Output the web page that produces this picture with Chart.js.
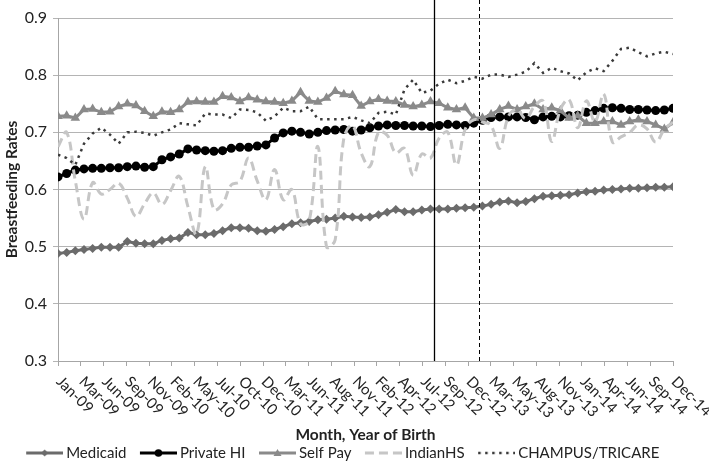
<!DOCTYPE html>
<html>
<head>
<meta charset="utf-8">
<script src="https://cdn.jsdelivr.net/npm/chart.js@4.4.1/dist/chart.umd.min.js"></script>
<style>
  body { margin: 0; background: #fff; }
</style>
</head>
<body>
<canvas id="chart" width="709" height="462"></canvas>
<script>
// tick labels shown under the month axis (28 evenly spaced ticks over 72 months)
const xTickLabels = ['Jan-09', 'Mar-09', 'Jun-09', 'Sep-09', 'Nov-09', 'Feb-10', 'May-10',
  'Jul-10', 'Oct-10', 'Dec-10', 'Mar-11', 'Jun-11', 'Aug-11', 'Nov-11', 'Feb-12', 'Apr-12',
  'Jul-12', 'Sep-12', 'Dec-12', 'Mar-13', 'May-13', 'Aug-13', 'Nov-13', 'Jan-14', 'Apr-14',
  'Jun-14', 'Sep-14', 'Dec-14'];

// monthly rates, Jan-09 .. Dec-14
const medicaid = [
  0.488, 0.490, 0.493, 0.495, 0.497, 0.499, 0.499, 0.499, 0.509, 0.506, 0.505, 0.505,
  0.511, 0.514, 0.515, 0.525, 0.521, 0.521, 0.523, 0.528, 0.533, 0.533, 0.532, 0.528,
  0.527, 0.530, 0.535, 0.540, 0.542, 0.544, 0.547, 0.548, 0.550, 0.553, 0.552, 0.551,
  0.552, 0.556, 0.560, 0.565, 0.561, 0.561, 0.564, 0.566, 0.566, 0.566, 0.567, 0.568,
  0.569, 0.571, 0.574, 0.578, 0.580, 0.577, 0.579, 0.584, 0.588, 0.589, 0.590, 0.591,
  0.594, 0.596, 0.597, 0.599, 0.600, 0.601, 0.602, 0.602, 0.603, 0.604, 0.604, 0.605];

const privateHI = [
  0.622, 0.628, 0.634, 0.636, 0.637, 0.637, 0.638, 0.638, 0.640, 0.641, 0.639, 0.640,
  0.652, 0.657, 0.662, 0.671, 0.669, 0.668, 0.667, 0.668, 0.672, 0.674, 0.674, 0.676,
  0.678, 0.690, 0.699, 0.702, 0.700, 0.697, 0.700, 0.703, 0.704, 0.705, 0.702, 0.704,
  0.708, 0.711, 0.713, 0.712, 0.712, 0.711, 0.711, 0.710, 0.712, 0.714, 0.713, 0.712,
  0.716, 0.721, 0.726, 0.727, 0.727, 0.727, 0.726, 0.722, 0.727, 0.728, 0.727, 0.729,
  0.730, 0.735, 0.738, 0.742, 0.743, 0.742, 0.740, 0.740, 0.739, 0.738, 0.739, 0.742];

const selfPay = [
  0.728, 0.729, 0.725, 0.740, 0.741, 0.735, 0.736, 0.745, 0.750, 0.747, 0.737, 0.728,
  0.736, 0.735, 0.740, 0.753, 0.754, 0.753, 0.753, 0.763, 0.761, 0.754, 0.761, 0.757,
  0.754, 0.753, 0.751, 0.755, 0.770, 0.755, 0.753, 0.760, 0.772, 0.766, 0.765, 0.746,
  0.754, 0.758, 0.755, 0.754, 0.748, 0.745, 0.748, 0.754, 0.751, 0.743, 0.740, 0.743,
  0.725, 0.725, 0.731, 0.740, 0.746, 0.740, 0.745, 0.750, 0.740, 0.743, 0.738, 0.725,
  0.729, 0.716, 0.716, 0.719, 0.719, 0.713, 0.719, 0.722, 0.719, 0.713, 0.706, 0.717];

const indianHS = [
  0.675, 0.700, 0.615, 0.548, 0.612, 0.592, 0.600, 0.611, 0.585, 0.553, 0.575, 0.594,
  0.574, 0.598, 0.623, 0.570, 0.522, 0.640, 0.565, 0.575, 0.608, 0.614, 0.655, 0.615,
  0.582, 0.635, 0.582, 0.600, 0.540, 0.545, 0.675, 0.500, 0.512, 0.690, 0.712, 0.664,
  0.640, 0.700, 0.695, 0.664, 0.672, 0.625, 0.662, 0.655, 0.690, 0.700, 0.643, 0.705,
  0.722, 0.718, 0.712, 0.672, 0.728, 0.740, 0.724, 0.745, 0.755, 0.684, 0.740, 0.757,
  0.708, 0.755, 0.718, 0.767, 0.683, 0.692, 0.700, 0.713, 0.706, 0.683, 0.705, 0.718];

const champus = [
  0.661, 0.655, 0.643, 0.680, 0.698, 0.708, 0.696, 0.680, 0.700, 0.701, 0.699, 0.694,
  0.700, 0.705, 0.716, 0.714, 0.712, 0.733, 0.731, 0.731, 0.725, 0.740, 0.739, 0.735,
  0.720, 0.728, 0.743, 0.737, 0.737, 0.745, 0.723, 0.723, 0.723, 0.723, 0.727, 0.721,
  0.716, 0.734, 0.736, 0.731, 0.775, 0.792, 0.769, 0.773, 0.785, 0.792, 0.786, 0.790,
  0.797, 0.794, 0.801, 0.801, 0.797, 0.801, 0.806, 0.821, 0.804, 0.813, 0.807, 0.803,
  0.791, 0.805, 0.812, 0.807, 0.825, 0.846, 0.848, 0.840, 0.833, 0.838, 0.841, 0.837];

// reference lines, in months since Jan-09
const solidLineAt = 43.4;
const dashedLineAt = 48.6;

const FONT = 'Lato, "Open Sans", sans-serif';
const TEXT = '#222';

const toXY = arr => arr.map((v, i) => ({ x: i, y: v }));

const datasets = [
  { label: 'Medicaid', data: toXY(medicaid), borderColor: '#6b6b6b', backgroundColor: '#6b6b6b',
    borderWidth: 3, pointStyle: 'rectRot', pointRadius: 4.5, pointBorderWidth: 0, order: 4 },
  { label: 'Private HI', data: toXY(privateHI), borderColor: '#000', backgroundColor: '#000',
    borderWidth: 3, pointStyle: 'circle', pointRadius: 4.5, pointBorderWidth: 0, order: 3 },
  { label: 'Self Pay', data: toXY(selfPay), borderColor: '#8a8a8a', backgroundColor: '#8a8a8a',
    borderWidth: 3, pointStyle: 'triangle', pointRadius: 5.5, pointBorderWidth: 0, order: 2 },
  { label: 'IndianHS', data: toXY(indianHS), borderColor: '#c6c6c6', backgroundColor: '#c6c6c6',
    borderWidth: 3, borderDash: [9, 5], tension: 0.4, pointRadius: 0, order: 1 },
  { label: 'CHAMPUS/TRICARE', data: toXY(champus), borderColor: '#3a3a3a', backgroundColor: '#3a3a3a',
    borderWidth: 2.5, borderDash: [2.5, 4.5], pointRadius: 0, order: 0 }
];

// legend picture: blank lead-in, then a line with the series marker in the middle
const SW_BOX = 45, SW_W = 54, SW_LINE = 37;
function makeSwatch(ds) {
  const c = document.createElement('canvas');
  c.width = SW_W; c.height = 14;
  const g = c.getContext('2d');
  const x0 = SW_W - SW_LINE, mid = x0 + SW_LINE / 2;
  g.strokeStyle = ds.borderColor;
  g.lineWidth = ds.borderWidth;
  g.setLineDash(ds.borderDash || []);
  g.beginPath(); g.moveTo(x0, 7); g.lineTo(SW_W, 7); g.stroke();
  g.fillStyle = ds.borderColor;
  g.beginPath();
  if (ds.pointStyle === 'rectRot') {
    g.moveTo(mid, 3.5); g.lineTo(mid + 3.5, 7); g.lineTo(mid, 10.5); g.lineTo(mid - 3.5, 7);
  } else if (ds.pointStyle === 'circle') {
    g.arc(mid, 7, 3.8, 0, Math.PI * 2);
  } else if (ds.pointStyle === 'triangle') {
    g.moveTo(mid, 3); g.lineTo(mid + 4, 10); g.lineTo(mid - 4, 10);
  }
  g.fill();
  return c;
}

const xLabels = {
  id: 'xLabels',
  afterDraw(chart) {
    const sc = chart.scales.x, ctx = chart.ctx;
    ctx.save();
    ctx.font = '15px ' + FONT;
    ctx.fillStyle = TEXT;
    ctx.textAlign = 'left';
    ctx.textBaseline = 'middle';
    sc.ticks.forEach((t, k) => {
      const px = sc.getPixelForValue(t.value);
      ctx.save();
      ctx.translate(px + 1, sc.top + 18);
      ctx.rotate(Math.PI / 4);
      ctx.fillText(xTickLabels[k], 0, 0);
      ctx.restore();
    });
    ctx.restore();
  }
};

const refLines = {
  id: 'refLines',
  afterDatasetsDraw(chart) {
    const sc = chart.scales.x, ctx = chart.ctx, bottom = chart.chartArea.bottom;
    ctx.save();
    ctx.strokeStyle = '#000';
    let x = Math.round(sc.getPixelForValue(solidLineAt)) + 0.5;
    ctx.lineWidth = 1.3;
    ctx.beginPath(); ctx.moveTo(x, 0); ctx.lineTo(x, bottom); ctx.stroke();
    x = Math.round(sc.getPixelForValue(dashedLineAt)) + 0.5;
    ctx.lineWidth = 1;
    ctx.setLineDash([4, 3]);
    ctx.beginPath(); ctx.moveTo(x, 0); ctx.lineTo(x, bottom); ctx.stroke();
    ctx.restore();
  }
};

function draw() {
  const swatches = datasets.map(makeSwatch);
  new Chart(document.getElementById('chart'), {
    type: 'line',
    data: { datasets },
    options: {
      responsive: false,
      animation: false,
      devicePixelRatio: 1,
      layout: { padding: { top: 18, right: 36, left: 0, bottom: 0 } },
      elements: { line: { borderCapStyle: 'butt' } },
      plugins: {
        tooltip: { enabled: false },
        legend: {
          position: 'bottom',
          maxHeight: 17.5,
          labels: {
            usePointStyle: true,
            pointStyleWidth: SW_BOX,
            boxHeight: 14,
            padding: 1,
            color: TEXT,
            font: { family: FONT, size: 15 },
            generateLabels(chart) {
              const items = Chart.defaults.plugins.legend.labels.generateLabels(chart);
              items.forEach(it => { it.pointStyle = swatches[it.datasetIndex]; });
              return items;
            },
            sort: (a, b) => a.datasetIndex - b.datasetIndex
          }
        }
      },
      scales: {
        x: {
          type: 'linear',
          min: 0,
          max: medicaid.length - 1,
          afterBuildTicks(scale) {
            const n = xTickLabels.length - 1;
            scale.ticks = xTickLabels.map((_, k) => ({ value: k * (medicaid.length - 1) / n }));
          },
          afterFit(scale) { scale.height = 83.5; },
          ticks: { display: false },
          grid: { display: true, drawOnChartArea: false, drawTicks: true, tickLength: 5, color: '#a6a6a6' },
          border: { display: true, color: '#a6a6a6' },
          title: {
            display: true,
            text: 'Month, Year of Birth',
            color: TEXT,
            font: { family: FONT, size: 15.5, weight: 'bold' },
            padding: { top: 0, bottom: 0 }
          }
        },
        y: {
          min: 0.3,
          max: 0.9,
          afterFit(scale) { scale.width = 58; },
          ticks: {
            stepSize: 0.1,
            padding: 6,
            color: TEXT,
            font: { family: FONT, size: 16 },
            callback: v => v.toFixed(1)
          },
          grid: { color: '#b4b4b4', tickLength: 5 },
          border: { display: true, color: '#a6a6a6' },
          title: {
            display: true,
            text: 'Breastfeeding Rates',
            color: TEXT,
            font: { family: FONT, size: 15.5, weight: 'bold' },
            padding: { top: 3, bottom: 3 }
          }
        }
      }
    },
    plugins: [refLines, xLabels]
  });
}

Promise.all([
  document.fonts.load('15px Lato'),
  document.fonts.load('bold 15px Lato')
]).then(draw, draw);
</script>
</body>
</html>
